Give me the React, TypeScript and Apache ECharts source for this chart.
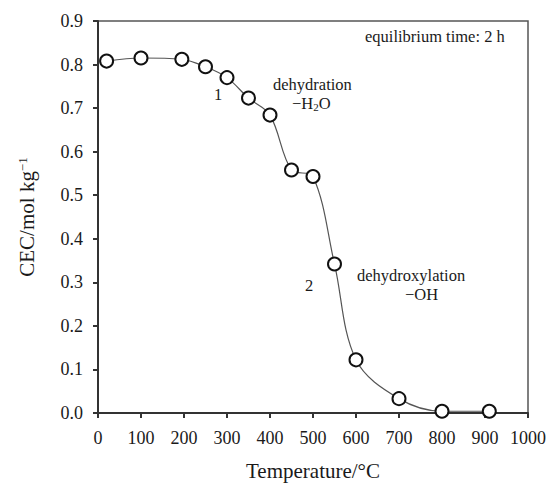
import React, { useEffect, useRef } from "react";
import * as echarts from "echarts";

const temperatures = [20, 100, 195, 250, 300, 350, 400, 450, 500, 550, 600, 700, 800, 910];
const cecValues = [0.808, 0.815, 0.812, 0.795, 0.77, 0.723, 0.684, 0.558, 0.543, 0.342, 0.122, 0.033, 0.004, 0.004];
const xTicks = [0, 1000, 100];
const yTicks = [0, 0.9, 0.1];

const FONT = "Liberation Serif";
const INK = "#1a1a1a";
const ANN = 16.5;

export default function App() {
  const ref = useRef<HTMLDivElement>(null);
  useEffect(() => {
    document.body.style.margin = "0";
    const chart = echarts.init(ref.current!, null, { renderer: "svg" });
    chart.setOption({
      animation: false,
      backgroundColor: "#ffffff",
      grid: {
        left: 98,
        top: 21,
        right: 23,
        bottom: 70,
        containLabel: false,
        outerBoundsMode: "none",
        show: true,
        borderColor: "#555",
        borderWidth: 1.5,
      },
      xAxis: {
        type: "value",
        min: xTicks[0],
        max: xTicks[1],
        interval: xTicks[2],
        name: "Temperature/°C",
        nameLocation: "middle",
        nameGap: 47,
        nameTextStyle: { fontFamily: FONT, fontSize: 21, color: INK },
        axisLine: { show: true, lineStyle: { color: "#333", width: 2 } },
        axisTick: { show: true, length: 5, lineStyle: { color: "#333", width: 2 } },
        axisLabel: {
          fontFamily: FONT,
          fontSize: 18,
          color: INK,
          margin: 16,
          formatter: (v: number) => String(v),
        },
        splitLine: { show: false },
      },
      yAxis: {
        type: "value",
        min: yTicks[0],
        max: yTicks[1],
        interval: yTicks[2],
        name: "{a|CEC/mol kg}{s|−1}",
        nameLocation: "middle",
        nameRotate: 90,
        nameGap: 60,
        nameTextStyle: {
          rich: {
            a: { fontFamily: FONT, fontSize: 21, color: INK },
            s: { fontFamily: FONT, fontSize: 13, color: INK, verticalAlign: "top", padding: [0, 0, 9, 0] },
          },
        },
        axisLine: { show: true, lineStyle: { color: "#333", width: 2 } },
        axisTick: { show: true, length: 5, lineStyle: { color: "#333", width: 2 } },
        axisLabel: {
          fontFamily: FONT,
          fontSize: 18,
          color: INK,
          margin: 15,
          formatter: (v: number) => v.toFixed(1),
        },
        splitLine: { show: false },
      },
      series: [
        {
          type: "line",
          data: temperatures.map((t, i) => [t, cecValues[i]]),
          smooth: 0.35,
          symbol: "circle",
          symbolSize: 13,
          itemStyle: { color: "#fff", borderColor: "#111", borderWidth: 2 },
          lineStyle: { color: "#555", width: 1.2 },
        },
      ],
      graphic: [
        {
          type: "text",
          left: 365,
          top: 28,
          style: { text: "equilibrium time: 2 h", fontFamily: FONT, fontSize: ANN, fill: INK },
        },
        {
          type: "text",
          left: 273,
          top: 76,
          style: { text: "dehydration", fontFamily: FONT, fontSize: ANN, fill: INK },
        },
        {
          type: "text",
          left: 292,
          top: 95,
          style: {
            text: "{a|−H}{s|2}{a|O}",
            rich: {
              a: { fontFamily: FONT, fontSize: ANN, fill: INK, lineHeight: 17 },
              s: { fontFamily: FONT, fontSize: 11, fill: INK, verticalAlign: "bottom", lineHeight: 17 },
            },
          },
        },
        {
          type: "text",
          left: 214,
          top: 86,
          style: { text: "1", fontFamily: FONT, fontSize: ANN, fill: INK },
        },
        {
          type: "text",
          left: 305,
          top: 277,
          style: { text: "2", fontFamily: FONT, fontSize: ANN, fill: INK },
        },
        {
          type: "text",
          left: 357,
          top: 267,
          style: { text: "dehydroxylation", fontFamily: FONT, fontSize: ANN, fill: INK },
        },
        {
          type: "text",
          left: 405,
          top: 286,
          style: { text: "−OH", fontFamily: FONT, fontSize: ANN, fill: INK },
        },
      ],
    });
    return () => chart.dispose();
  }, []);
  return <div ref={ref} style={{ width: 551, height: 483 }} />;
}
